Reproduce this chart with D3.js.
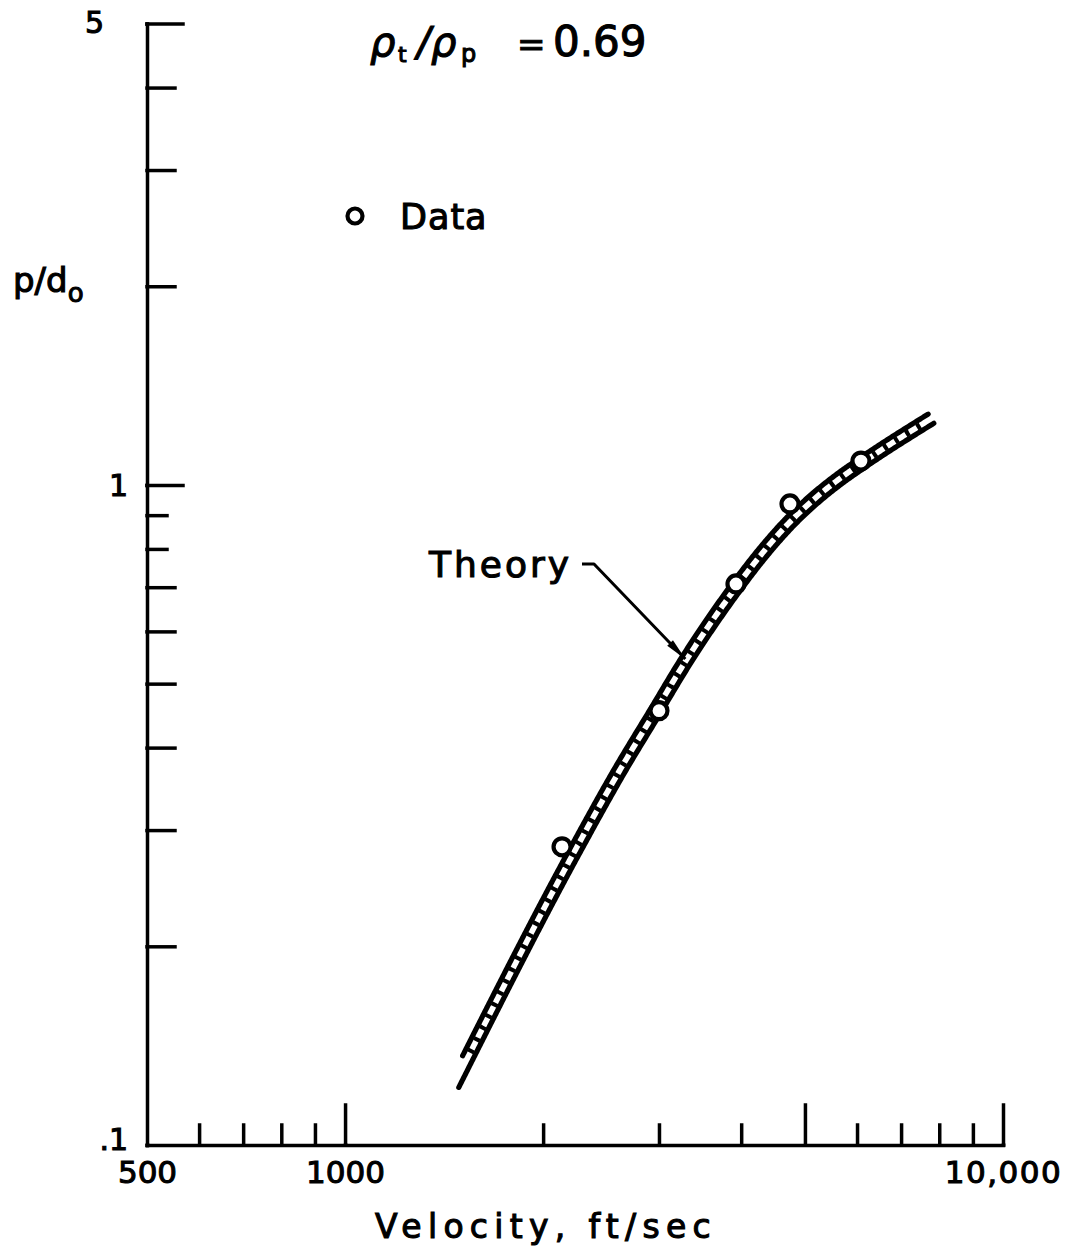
<!DOCTYPE html>
<html>
<head>
<meta charset="utf-8">
<script src="https://cdn.jsdelivr.net/npm/d3@7"></script>
<style>
  html, body { margin: 0; padding: 0; background: #fff; }
  svg text {
    font-family: "DejaVu Sans", "Liberation Sans", sans-serif;
    fill: #000; stroke: #000; stroke-width: 1.1px; paint-order: stroke;
  }
</style>
</head>
<body>
<svg id="chart" width="1080" height="1258"></svg>
<script>
// Measured penetration: impact velocity (ft/sec) and depth ratio p/d0
const dataVelocity = [2137, 3000, 3928, 4745, 6083];
const dataDepth    = [0.283, 0.455, 0.708, 0.936, 1.087];

// Theoretical prediction, same units
const theoryVelocity = [1464, 2252, 2617, 2958, 3286, 3942, 4302, 4745, 5178, 5652, 6083, 7772];
const theoryDepth    = [0.1233, 0.283, 0.370, 0.453, 0.539, 0.703, 0.787, 0.879, 0.954, 1.023, 1.077, 1.260];

// Axis ticks
const xMinorTicks = [600, 700, 800, 900, 2000, 3000, 4000, 6000, 7000, 8000, 9000];
const xMajorTicks = [1000, 5000, 10000];
const xTickLabels = [500, 1000, 10000];
const yMinorTicks = [0.2, 0.3, 0.4, 0.5, 0.6, 0.7, 2, 3, 4];
const yShortTicks = [0.8, 0.9];
const yMajorTicks = [1, 5];
const yTickLabels = [0.1, 1, 5];

const svg = d3.select("#chart");

const x = d3.scaleLog().domain([500, 10000]).range([147, 1003]);
const y = d3.scaleLog().domain([0.1, 5]).range([1145, 23.6]);

const AXIS_W = 3.5;

// ---- X axis (ticks point up into the plot) ----
const xAxisG = svg.append("g").attr("transform", `translate(0,${y(0.1)})`);
xAxisG.append("g")
  .call(d3.axisBottom(x).tickValues(xMinorTicks).tickSize(-20).tickSizeOuter(0).tickFormat(""));
xAxisG.append("g")
  .call(d3.axisBottom(x).tickValues(xMajorTicks).tickSize(-40).tickSizeOuter(0).tickFormat(""))
  .select(".domain").remove();
xAxisG.append("g")
  .call(d3.axisBottom(x).tickValues(xTickLabels).tickSize(0).tickPadding(16)
    .tickFormat(d => d === 10000 ? "10,000" : String(d)))
  .call(g => g.select(".domain").remove())
  .selectAll("text")
    .style("font-size", "31px")
    .style("letter-spacing", d => d === 10000 ? "1.5px" : "0px");

// ---- Y axis (ticks point right into the plot) ----
const yAxisG = svg.append("g").attr("transform", `translate(${x(500)},0)`);
yAxisG.append("g")
  .call(d3.axisLeft(y).tickValues(yMinorTicks).tickSize(-28).tickSizeOuter(0).tickFormat(""));
yAxisG.append("g")
  .call(d3.axisLeft(y).tickValues(yShortTicks).tickSize(-20).tickFormat(""))
  .select(".domain").remove();
yAxisG.append("g")
  .call(d3.axisLeft(y).tickValues(yMajorTicks).tickSize(-36).tickFormat(""))
  .select(".domain").remove();
yAxisG.append("g")
  .call(d3.axisLeft(y).tickValues(yTickLabels).tickSize(0).tickPadding(19)
    .tickFormat(d => d === 0.1 ? ".1" : String(d)))
  .call(g => g.select(".domain").remove())
  .selectAll("text")
    .style("font-size", "30px")
    .attr("dx", d => d === 5 ? -24 : 0)
    .attr("dy", d => d === 0.1 ? "0.15em" : (d === 5 ? "0.3em" : "0.35em"));

svg.selectAll(".domain, .tick line")
  .attr("stroke", "#000")
  .attr("stroke-width", AXIS_W)
  .attr("stroke-linecap", "square");

// ---- Axis titles ----
svg.append("text")
  .attr("x", 375).attr("y", 1238)
  .style("font-size", "33px").style("letter-spacing", "6.3px")
  .text("Velocity, ft/sec");

const yTitle = svg.append("text")
  .attr("x", 13).attr("y", 292)
  .style("font-size", "34px");
yTitle.append("tspan").text("p/d");
yTitle.append("tspan").attr("dy", 10).style("font-size", "26px").text("o");

// ---- Density ratio heading ----
const head = svg.append("text").attr("y", 56).style("font-size", "40px");
head.append("tspan").attr("x", 370).style("font-style", "italic").text("ρ");
head.append("tspan").attr("x", 398).attr("dy", 6).style("font-size", "22px").text("t");
head.append("tspan").attr("x", 417).attr("dy", -6).style("font-style", "italic").text("/");
head.append("tspan").attr("x", 431).style("font-style", "italic").text("ρ");
head.append("tspan").attr("x", 461).attr("dy", 6).style("font-size", "24px").text("p");
head.append("tspan").attr("x", 517).attr("dy", -6).style("font-size", "34px").text("=");
head.append("tspan").attr("x", 553).style("font-size", "42px").text("0.69");

// ---- Legend ----
svg.append("circle")
  .attr("cx", 355).attr("cy", 216).attr("r", 7.5)
  .attr("fill", "#fff").attr("stroke", "#000").attr("stroke-width", 4.2);
svg.append("text")
  .attr("x", 400).attr("y", 229)
  .style("font-size", "35px").style("letter-spacing", "1px")
  .text("Data");

// ---- Theory band: two rails with a rung line between them ----
const theory = theoryVelocity.map((v, i) => [x(v), y(theoryDepth[i])]);
const centreD = d3.line().curve(d3.curveMonotoneX)(theory);
const probe = svg.append("path").attr("d", centreD).attr("fill", "none").attr("stroke", "none");
const node = probe.node();
const total = node.getTotalLength();
const step = 1.5;
const samples = [];
for (let s = 0; s <= total; s += step) samples.push(node.getPointAtLength(s));
samples.push(node.getPointAtLength(total));

function offsetRail(off, startLen, endLen) {
  const pts = [];
  for (let i = 0; i < samples.length; i++) {
    const s = Math.min(i * step, total);
    if (s < startLen || s > endLen) continue;
    const a = samples[Math.max(0, i - 3)], b = samples[Math.min(samples.length - 1, i + 3)];
    const dx = b.x - a.x, dy = b.y - a.y, len = Math.hypot(dx, dy) || 1;
    // left-hand normal (points up/left of the direction of travel)
    const nx = dy / len, ny = -dx / len;
    pts.push([samples[i].x + nx * off, samples[i].y + ny * off]);
  }
  return pts;
}
const railLine = d3.line();
const RAIL_OFF = 5.4;
const RAIL_W = 5.2;
svg.append("path")
  .attr("d", railLine(offsetRail(RAIL_OFF, 30, total)))
  .attr("fill", "none").attr("stroke", "#000").attr("stroke-width", RAIL_W)
  .attr("stroke-linecap", "round").attr("stroke-linejoin", "round");
svg.append("path")
  .attr("d", railLine(offsetRail(-RAIL_OFF, 0, total)))
  .attr("fill", "none").attr("stroke", "#000").attr("stroke-width", RAIL_W)
  .attr("stroke-linecap", "round").attr("stroke-linejoin", "round");
svg.append("path")
  .attr("d", railLine(offsetRail(0, 36, total - 6)))
  .attr("fill", "none").attr("stroke", "#000").attr("stroke-width", 6.5)
  .attr("stroke-dasharray", "4 9");

// ---- Leader for the theory label ----
svg.append("text")
  .attr("x", 429).attr("y", 577)
  .style("font-size", "36px").style("letter-spacing", "3px")
  .text("Theory");
const tip = [x(3290), y(0.545)];
const elbow = [594, 564];
svg.append("path")
  .attr("d", `M582,564 L${elbow[0]},${elbow[1]} L${tip[0]},${tip[1]}`)
  .attr("fill", "none").attr("stroke", "#000").attr("stroke-width", 3)
  .attr("stroke-linejoin", "round");
{
  const ang = Math.atan2(tip[1] - elbow[1], tip[0] - elbow[0]);
  const L = 22, W = 4;
  const bx = tip[0] - L * Math.cos(ang), by = tip[1] - L * Math.sin(ang);
  const px = -Math.sin(ang) * W, py = Math.cos(ang) * W;
  svg.append("path")
    .attr("d", `M${tip[0]},${tip[1]} L${bx + px},${by + py} L${bx - px},${by - py} Z`)
    .attr("fill", "#000");
}

// ---- Data points ----
svg.append("g").selectAll("circle")
  .data(dataVelocity.map((v, i) => ({ v, p: dataDepth[i] })))
  .join("circle")
    .attr("cx", d => x(d.v)).attr("cy", d => y(d.p))
    .attr("r", 8.5)
    .attr("fill", "#fff").attr("stroke", "#000").attr("stroke-width", 4.2);
</script>
</body>
</html>
